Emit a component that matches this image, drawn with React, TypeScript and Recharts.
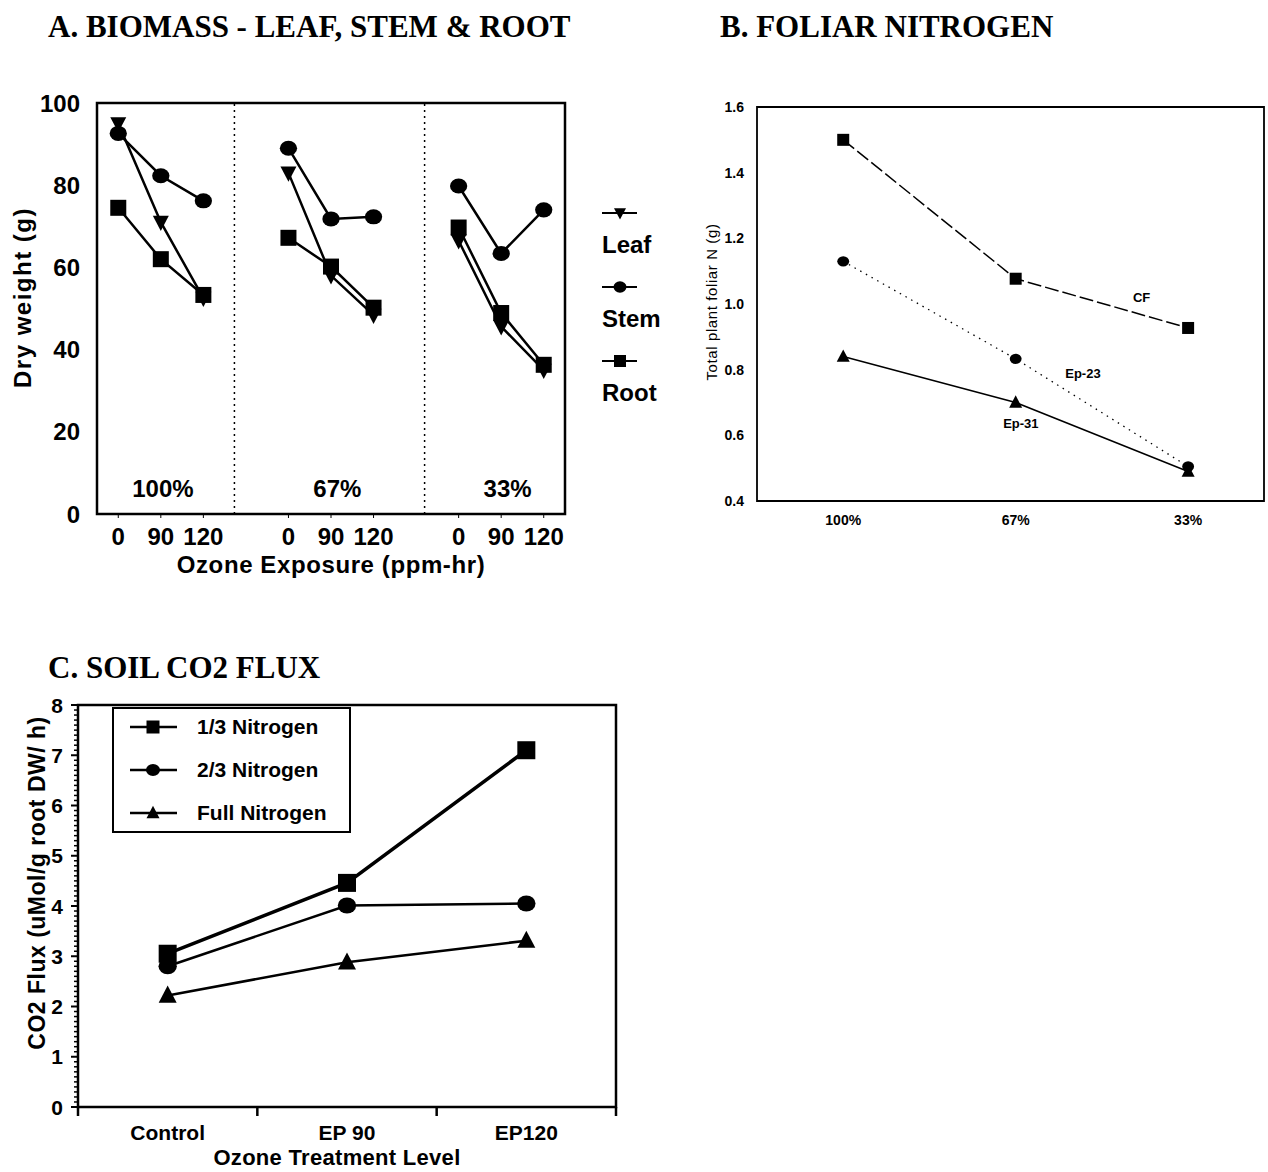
import React from 'react'
import {
  LineChart, Line, XAxis, YAxis, ReferenceLine, ReferenceArea, ReferenceDot, Legend,
} from 'recharts'

const SANS = '"Liberation Sans", Arial, Helvetica, sans-serif'
const SERIF = '"Liberation Serif", "Times New Roman", serif'
const INK = '#000'

// A. biomass, dry weight (g) per nitrogen group, at ozone 0 / 90 / 120
const nitrogenGroups = ['100%', '67%', '33%']
const ozoneLevels = ['0', '90', '120']
const leafWeight = [[95, 71, 52.5], [83, 58, 48.4], [66.5, 45.6, 35]]
const stemWeight = [[92.6, 82.3, 76.2], [89, 71.8, 72.3], [79.8, 63.4, 74]]
const rootWeight = [[74.5, 62, 53.3], [67.2, 60.2, 50.2], [69.7, 48.9, 36.3]]
const weightTicks = [0, 20, 40, 60, 80, 100]
const groupDividers = [2.73, 7.2]
const groupLabelPos = [1.05, 5.15, 9.15]

// B. foliar nitrogen (g)
const nitrogenLevels = ['100%', '67%', '33%']
const cfN = [1.5, 1.077, 0.927]
const ep23N = [1.13, 0.833, 0.505]
const ep31N = [0.84, 0.7, 0.49]
const foliarTicks = [0.4, 0.6, 0.8, 1.0, 1.2, 1.4, 1.6]
const foliarNotes = [
  { text: 'CF', x: 1.73, y: 1.02 },
  { text: 'Ep-23', x: 1.39, y: 0.79 },
  { text: 'Ep-31', x: 1.03, y: 0.635 },
]

// C. soil CO2 flux (uMol/g root DW/h)
const treatments = ['Control', 'EP 90', 'EP120']
const fluxThirdN = [3.05, 4.46, 7.1]
const fluxTwoThirdN = [2.8, 4.01, 4.05]
const fluxFullN = [2.22, 2.88, 3.31]
const fluxTicks = [0, 1, 2, 3, 4, 5, 6, 7, 8]
const fluxMinorTicks = Array.from({ length: 81 }, (_, i) => i / 10)
const treatmentBounds = [-0.5, 0.5, 1.5, 2.5]

type Shape = 'square' | 'circle' | 'triUp' | 'triDown'

const biomassSeries: { key: string; name: string; shape: Shape }[] = [
  { key: 'leaf', name: 'Leaf', shape: 'triDown' },
  { key: 'stem', name: 'Stem', shape: 'circle' },
  { key: 'root', name: 'Root', shape: 'square' },
]

const foliarSeries: { key: string; shape: Shape; size: number; dash?: string; width: number }[] = [
  { key: 'cf', shape: 'square', size: 12, dash: '14 4', width: 1.5 },
  { key: 'ep23', shape: 'circle', size: 11, dash: '1.5 5', width: 1.3 },
  { key: 'ep31', shape: 'triUp', size: 13, width: 1.5 },
]

const fluxSeries: { key: string; name: string; shape: Shape; size: number; width: number }[] = [
  { key: 'third', name: '1/3 Nitrogen', shape: 'square', size: 18, width: 3.5 },
  { key: 'twoThird', name: '2/3 Nitrogen', shape: 'circle', size: 17, width: 2.5 },
  { key: 'full', name: 'Full Nitrogen', shape: 'triUp', size: 18, width: 2.5 },
]

// rows: three ozone points per nitrogen group, a null row between groups breaks the lines
const biomassRows: any[] = []
nitrogenGroups.forEach((_, g) => {
  ozoneLevels.forEach((oz, i) => {
    biomassRows.push({ pos: g * 4 + i, ozone: oz, leaf: leafWeight[g][i], stem: stemWeight[g][i], root: rootWeight[g][i] })
  })
  if (g < nitrogenGroups.length - 1) {
    biomassRows.push({ pos: g * 4 + 3, ozone: '', leaf: null, stem: null, root: null })
  }
})
const biomassTickPos = biomassRows.filter(r => r.ozone !== '').map(r => r.pos)

const foliarRows = nitrogenLevels.map((lvl, i) => ({ pos: i, level: lvl, cf: cfN[i], ep23: ep23N[i], ep31: ep31N[i] }))

const fluxRows = treatments.map((t, i) => ({
  pos: i, treatment: t, third: fluxThirdN[i], twoThird: fluxTwoThirdN[i], full: fluxFullN[i],
}))

function Marker({ shape, cx, cy, size }: { shape: Shape; cx: number; cy: number; size: number }) {
  const h = size / 2
  if (shape === 'square') return <rect x={cx - h} y={cy - h} width={size} height={size} fill={INK} />
  if (shape === 'circle') return <ellipse cx={cx} cy={cy} rx={h * 1.08} ry={h * 0.94} fill={INK} />
  if (shape === 'triUp') {
    return <polygon points={`${cx},${cy - h * 1.1} ${cx + h},${cy + h * 0.8} ${cx - h},${cy + h * 0.8}`} fill={INK} />
  }
  return <polygon points={`${cx - h},${cy - h * 0.8} ${cx + h},${cy - h * 0.8} ${cx},${cy + h * 1.1}`} fill={INK} />
}

const dotOf = (shape: Shape, size: number) => (p: any) => {
  const key = `${shape}-${p.index}`
  if (p.value == null || !Number.isFinite(p.cx) || !Number.isFinite(p.cy)) return <g key={key} />
  return <Marker key={key} shape={shape} cx={p.cx} cy={p.cy} size={size} />
}

// axis title placed relative to the axis box
const axisTitle = (text: string, o: { dx: number; dy: number; size: number; vertical?: boolean; spacing?: number; weight?: number }) =>
  (props: any) => {
    const vb = props.viewBox ?? { x: 0, y: 0, width: 0, height: 0 }
    const x = o.vertical ? vb.x + o.dx : vb.x + vb.width / 2 + o.dx
    const y = o.vertical ? vb.y + vb.height / 2 + o.dy : vb.y + o.dy
    return (
      <text
        x={x} y={y}
        transform={o.vertical ? `rotate(-90, ${x}, ${y})` : undefined}
        textAnchor="middle"
        dominantBaseline={o.vertical ? 'central' : 'alphabetic'}
        fontSize={o.size} fontWeight={o.weight ?? 700} fill={INK}
        style={{ letterSpacing: o.spacing ?? 0 }}
      >
        {text}
      </text>
    )
  }

function BiomassLegend({ payload }: any) {
  // keep the series order (leaf, stem, root) rather than the legend's sorted order
  const items = biomassSeries.filter(s => (payload || []).some((p: any) => p.value === s.name))
  return (
    <div style={{ fontFamily: SANS, fontWeight: 700 }}>
      {items.map(s => (
        <div key={s.name} style={{ height: 74 }}>
          <svg width={40} height={20} style={{ display: 'block' }}>
            <line x1={2} y1={10} x2={37} y2={10} stroke={INK} strokeWidth={2} />
            <Marker shape={s.shape} cx={20} cy={10} size={12} />
          </svg>
          <div style={{ fontSize: 24, lineHeight: '24px', marginTop: 10, paddingLeft: 2 }}>{s.name}</div>
        </div>
      ))}
    </div>
  )
}

function FluxLegend({ payload }: any) {
  const items = fluxSeries.filter(s => (payload || []).some((p: any) => p.value === s.name))
  return (
    <div style={{
      position: 'relative', width: 239, height: 126, boxSizing: 'border-box',
      border: `2.5px solid ${INK}`, background: '#fff', fontFamily: SANS, fontWeight: 700,
    }}>
      {items.map((s, i) => (
        <div key={s.name} style={{ position: 'absolute', left: 0, top: 6 + i * 43, height: 24, width: '100%' }}>
          <svg width={60} height={24} style={{ position: 'absolute', left: 14, top: 0 }}>
            <line x1={2} y1={12} x2={49} y2={12} stroke={INK} strokeWidth={2.5} />
            <Marker shape={s.shape} cx={25} cy={12} size={13} />
          </svg>
          <div style={{ position: 'absolute', left: 83, top: 0, fontSize: 21, lineHeight: '24px', whiteSpace: 'nowrap' }}>
            {s.name}
          </div>
        </div>
      ))}
    </div>
  )
}

function FluxXTick({ x, y, payload }: any) {
  const v = payload.value
  if (treatmentBounds.includes(v)) {
    return <line x1={x} y1={y} x2={x} y2={y + 9} stroke={INK} strokeWidth={2.5} />
  }
  return (
    <text x={x} y={y + 33} textAnchor="middle" fontSize={21} fontWeight={700} fill={INK}>
      {treatments[v]}
    </text>
  )
}

function FluxYTick({ x, y, payload }: any) {
  const v = payload.value
  if (fluxTicks.includes(v)) {
    return (
      <g>
        <line x1={x - 7} y1={y} x2={x} y2={y} stroke={INK} strokeWidth={2} />
        <text x={x - 15} y={y} dy="0.36em" textAnchor="end" fontSize={21} fontWeight={700} fill={INK}>{v}</text>
      </g>
    )
  }
  return <line x1={x - 4} y1={y} x2={x} y2={y} stroke={INK} strokeWidth={1.5} />
}

function BiomassChart() {
  return (
    <LineChart width={680} height={540} data={biomassRows} margin={{ top: 43, right: 115, bottom: 21, left: 0 }}>
      <XAxis
        type="number" dataKey="pos" domain={[-0.5, 10.5]} ticks={biomassTickPos} interval={0}
        tickFormatter={(v: number) => biomassRows.find(r => r.pos === v)?.ozone ?? ''}
        axisLine={false} tickLine={{ stroke: INK, strokeWidth: 1 }} tickSize={4} tickMargin={10} height={65}
        tick={{ fontSize: 24, fontWeight: 700, fill: INK }}
        label={{ content: axisTitle('Ozone Exposure (ppm-hr)', { dx: 0, dy: 59, size: 24, spacing: 0.6 }) }}
      />
      <YAxis
        type="number" domain={[0, 100]} ticks={weightTicks} interval={0} width={97}
        axisLine={false} tickLine={false} tickSize={0} tickMargin={17}
        tick={{ fontSize: 24, fontWeight: 700, fill: INK }}
        label={{ content: axisTitle('Dry weight (g)', { dx: 22, dy: -11, size: 24, vertical: true, spacing: 1.5 }) }}
      />
      <ReferenceArea x1={-0.5} x2={10.5} y1={0} y2={100} fill="none" stroke={INK} strokeWidth={2.5} />
      {groupDividers.map(x => (
        <ReferenceLine key={x} x={x} stroke={INK} strokeWidth={1.5} strokeDasharray="2 4" />
      ))}
      {nitrogenGroups.map((g, i) => (
        <ReferenceLine
          key={g} x={groupLabelPos[i]} stroke="none"
          label={{ value: g, position: 'insideBottom', offset: 17, fontSize: 24, fontWeight: 700, fill: INK }}
        />
      ))}
      {biomassSeries.map(s => (
        <Line
          key={s.key} dataKey={s.key} name={s.name} type="linear" stroke={INK} strokeWidth={2.5}
          dot={dotOf(s.shape, 16)} activeDot={false} connectNulls={false} isAnimationActive={false}
        />
      ))}
      <Legend
        layout="vertical" align="center" verticalAlign="middle"
        content={<BiomassLegend />}
        wrapperStyle={{ left: 600, top: 143, width: 80 }}
      />
    </LineChart>
  )
}

function FoliarChart() {
  return (
    <LineChart width={578} height={520} data={foliarRows} margin={{ top: 47, right: 4, bottom: 39, left: 0 }}>
      <XAxis
        type="number" dataKey="pos" domain={[-0.5, 2.44]} ticks={[0, 1, 2]} interval={0}
        tickFormatter={(i: number) => nitrogenLevels[i]}
        axisLine={false} tickLine={false} tickSize={0} tickMargin={14} height={40}
        tick={{ fontSize: 14, fontWeight: 700, fill: INK }}
      />
      <YAxis
        type="number" domain={[0.4, 1.6]} ticks={foliarTicks} interval={0} width={67}
        tickFormatter={(v: number) => v.toFixed(1)}
        axisLine={false} tickLine={false} tickSize={0} tickMargin={13}
        tick={{ fontSize: 14, fontWeight: 700, fill: INK }}
        label={{ content: axisTitle('Total plant foliar N (g)', { dx: 21, dy: -2, size: 15, vertical: true, spacing: 0.6, weight: 400 }) }}
      />
      <ReferenceArea x1={-0.5} x2={2.44} y1={0.4} y2={1.6} fill="none" stroke={INK} strokeWidth={1.8} />
      {foliarSeries.map(s => (
        <Line
          key={s.key} dataKey={s.key} type="linear" stroke={INK} strokeWidth={s.width} strokeDasharray={s.dash}
          dot={dotOf(s.shape, s.size)} activeDot={false} isAnimationActive={false}
        />
      ))}
      {foliarNotes.map(n => (
        <ReferenceDot
          key={n.text} x={n.x} y={n.y} r={0} fill="none" stroke="none"
          label={{ value: n.text, position: 'center', fontSize: 13, fontWeight: 700, fill: INK }}
        />
      ))}
    </LineChart>
  )
}

function FluxChart() {
  return (
    <LineChart width={640} height={532} data={fluxRows} margin={{ top: 65, right: 24, bottom: 0, left: 0 }}>
      <XAxis
        type="number" dataKey="pos" domain={[-0.5, 2.5]} ticks={[-0.5, 0, 0.5, 1, 1.5, 2, 2.5]} interval={0}
        axisLine={false} tickLine={false} tickSize={0} tickMargin={0} height={65}
        tick={(p: any) => <FluxXTick {...p} />}
        label={{ content: axisTitle('Ozone Treatment Level', { dx: -10, dy: 58, size: 22, spacing: 0.3 }) }}
      />
      <YAxis
        type="number" domain={[0, 8]} ticks={fluxMinorTicks} interval={0} width={78}
        axisLine={false} tickLine={false} tickSize={0} tickMargin={0}
        tick={(p: any) => <FluxYTick {...p} />}
        label={{ content: axisTitle('CO2 Flux (uMol/g root DW/ h)', { dx: 37, dy: -23, size: 23, vertical: true, spacing: 0.5 }) }}
      />
      <ReferenceArea x1={-0.5} x2={2.5} y1={0} y2={8} fill="none" stroke={INK} strokeWidth={2.5} />
      {fluxSeries.map(s => (
        <Line
          key={s.key} dataKey={s.key} name={s.name} type="linear" stroke={INK} strokeWidth={s.width}
          dot={dotOf(s.shape, s.size)} activeDot={false} isAnimationActive={false}
        />
      ))}
      <Legend
        layout="vertical" align="center" verticalAlign="middle"
        content={<FluxLegend />}
        wrapperStyle={{ left: 112, top: 67, width: 239 }}
      />
    </LineChart>
  )
}

const titleStyle: React.CSSProperties = {
  position: 'absolute', fontFamily: SERIF, fontWeight: 700, fontSize: 31, lineHeight: '31px',
  whiteSpace: 'nowrap', color: INK,
}

export default function App() {
  return (
    <div style={{ position: 'absolute', left: 0, top: 0, width: 1268, height: 1172, background: '#fff', fontFamily: SANS, color: INK }}>
      <div style={{ ...titleStyle, left: 48, top: 11 }}>A. BIOMASS - LEAF, STEM &amp; ROOT</div>
      <div style={{ ...titleStyle, left: 720, top: 11 }}>B. FOLIAR NITROGEN</div>
      <div style={{ ...titleStyle, left: 48, top: 652 }}>C. SOIL CO2 FLUX</div>

      <div style={{ position: 'absolute', left: 0, top: 60 }}>
        <BiomassChart />
      </div>
      <div style={{ position: 'absolute', left: 690, top: 60 }}>
        <FoliarChart />
      </div>
      <div style={{ position: 'absolute', left: 0, top: 640 }}>
        <FluxChart />
      </div>
    </div>
  )
}
